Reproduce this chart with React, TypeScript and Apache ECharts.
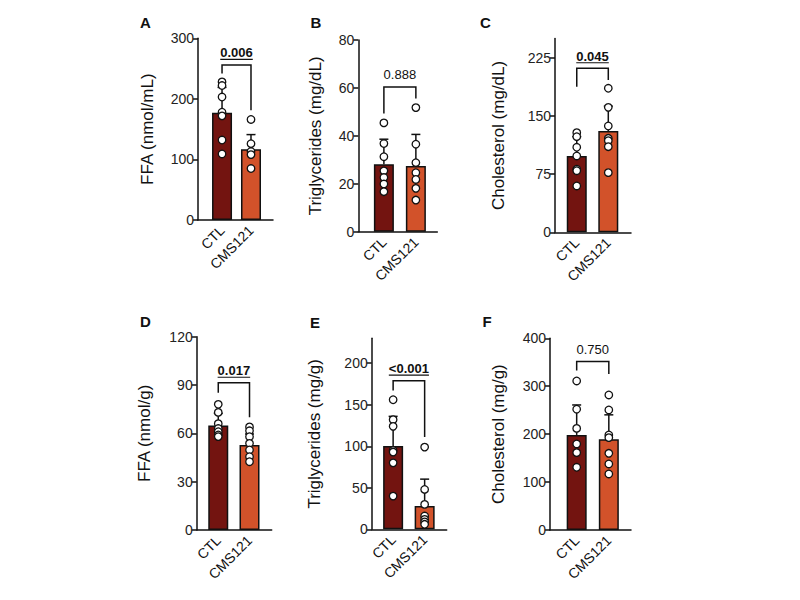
import React, { useEffect, useRef } from "react";
import * as echarts from "echarts";

// Groups and panel texts
const categories = ["CTL", "CMS121"];
const panelLetters = ["A", "B", "C", "D", "E", "F"];
const yTitles = [
  "FFA (nmol/mL)",
  "Triglycerides (mg/dL)",
  "Cholesterol (mg/dL)",
  "FFA (nmol/g)",
  "Triglycerides (mg/g)",
  "Cholesterol (mg/g)",
];
const yTicks = [
  [0, 100, 200, 300],
  [0, 20, 40, 60, 80],
  [0, 75, 150, 225],
  [0, 30, 60, 90, 120],
  [0, 50, 100, 150, 200],
  [0, 100, 200, 300, 400],
];
const yMax = [300, 80, 250, 120, 230, 400];

// Group means and SD (upper error bar), [CTL, CMS121]
const barMeans = [
  [177, 117],
  [28.1, 27.4],
  [98.5, 130.8],
  [64.8, 52.8],
  [100.4, 28],
  [198.3, 189.3],
];
const barSD = [
  [42, 24],
  [10.5, 13.2],
  [25, 32],
  [7.6, 6.8],
  [35.6, 32.4],
  [62.6, 51],
];

// Individual animals
const ctlPoints = [
  [228, 222, 203, 178, 172, 132, 109],
  [45.4, 36.8, 31.3, 25.4, 22.6, 19.9, 16.7],
  [128.6, 123.4, 109.7, 98.5, 81.3, 79.5, 59.8],
  [78, 73, 66, 63, 61, 59, 58],
  [156, 132, 124, 95, 93, 80, 40],
  [311, 252, 212, 179.5, 161.4, 130.9],
];
const cmsPoints = [
  [166, 126, 113, 108, 85],
  [51.8, 36.5, 28.8, 24.6, 21.8, 18.1, 13.2],
  [185.9, 161.3, 137.2, 121.3, 118.3, 110.5, 77],
  [64, 61.6, 57.9, 53.8, 49.7, 45.5, 42.4],
  [99, 48, 30, 16, 12, 9, 6],
  [281.8, 250.5, 198.3, 192.7, 160, 137.8, 116.9],
];

// Comparison results
const pValues = ["0.006", "0.888", "0.045", "0.017", "<0.001", "0.750"];
const significant = [true, false, true, true, true, false];

// Panel geometry (pixels) and bracket heights (axis units)
const layout = [
  { left: 198, top: 38.3, width: 75, height: 181.7, xMin: -0.83, xMax: 1.76, nameGap: 42, letter: [145.5, 22], bracket: [242, 256, 181] },
  { left: 358.3, top: 40, width: 79, height: 191.7, xMin: -0.8, xMax: 1.67, nameGap: 34, letter: [316, 22], bracket: [49.3, 60.4, 55.6] },
  { left: 555, top: 38.6, width: 76, height: 193.7, xMin: -0.69, xMax: 1.72, nameGap: 48, letter: [485.5, 22], bracket: [188, 211.7, 196.6] },
  { left: 196.7, top: 336.7, width: 75, height: 193.3, xMin: -0.69, xMax: 1.71, nameGap: 44, letter: [145.5, 321], bracket: [85.2, 91.4, 70] },
  { left: 371.7, top: 338.3, width: 75, height: 191, xMin: -0.68, xMax: 1.7, nameGap: 49, letter: [315, 322], bracket: [167, 179, 111] },
  { left: 550, top: 338.3, width: 81, height: 191.7, xMin: -0.83, xMax: 1.69, nameGap: 43, letter: [487, 321], bracket: [332.6, 351.4, 325.7] },
];

const FONT = "'Liberation Sans', Arial, Helvetica, sans-serif";
const BAR_COLORS = ["#731410", "#d2522a"];
const INK = "#111111";

function textWidth(text: string, font: string): number {
  const ctx = document.createElement("canvas").getContext("2d");
  if (!ctx) return text.length * 7;
  ctx.font = font;
  return ctx.measureText(text).width;
}

export default function App() {
  const ref = useRef<HTMLDivElement>(null);

  useEffect(() => {
    if (!ref.current) return;
    const chart = echarts.init(ref.current, null, { renderer: "svg" });

    const grids: any[] = [];
    const xAxes: any[] = [];
    const yAxes: any[] = [];
    const series: any[] = [];
    const graphics: any[] = [];

    layout.forEach((L, i) => {
      grids.push({ left: L.left, top: L.top, width: L.width, height: L.height, containLabel: false });
      xAxes.push({
        type: "value",
        gridIndex: i,
        min: L.xMin,
        max: L.xMax,
        splitLine: { show: false },
        axisTick: { show: false },
        axisLine: { show: true, lineStyle: { color: INK, width: 1.5 } },
        axisLabel: {
          customValues: [0, 1],
          formatter: (v: number) => categories[Math.round(v)] ?? "",
          rotate: 45,
          fontSize: 14,
          fontFamily: FONT,
          color: INK,
          margin: 8,
        },
      });
      yAxes.push({
        type: "value",
        gridIndex: i,
        min: 0,
        max: yMax[i],
        name: yTitles[i],
        nameLocation: "middle",
        nameRotate: 90,
        nameGap: L.nameGap,
        nameTextStyle: { fontSize: 17, fontFamily: FONT, color: INK },
        splitLine: { show: false },
        axisLine: { show: true, onZero: false, lineStyle: { color: INK, width: 1.5 } },
        axisTick: { show: true, customValues: yTicks[i], length: 5, lineStyle: { color: INK, width: 1.5 } },
        axisLabel: {
          customValues: yTicks[i],
          fontSize: 14,
          fontFamily: FONT,
          color: "#222",
          margin: 4,
        },
      });

      // Bars
      series.push({
        type: "bar",
        xAxisIndex: i,
        yAxisIndex: i,
        barWidth: 20,
        data: barMeans[i].map((m, g) => ({
          value: [g, m],
          itemStyle: { color: BAR_COLORS[g], borderColor: INK, borderWidth: 1.5 },
        })),
        silent: true,
      });

      // Upper SD error bars
      series.push({
        type: "custom",
        xAxisIndex: i,
        yAxisIndex: i,
        encode: { x: 0, y: 1 },
        data: barMeans[i].map((m, g) => [g, m, barSD[i][g]]),
        renderItem: (_p: any, api: any) => {
          const x = api.value(0);
          const m = api.value(1);
          const sd = api.value(2);
          const a = api.coord([x, m]);
          const b = api.coord([x, m + sd]);
          const style = { stroke: INK, lineWidth: 1.5 };
          return {
            type: "group",
            children: [
              { type: "line", shape: { x1: a[0], y1: a[1], x2: b[0], y2: b[1] }, style },
              { type: "line", shape: { x1: b[0] - 4.5, y1: b[1], x2: b[0] + 4.5, y2: b[1] }, style },
            ],
          };
        },
        silent: true,
        z: 3,
      });

      // Individual points
      series.push({
        type: "scatter",
        xAxisIndex: i,
        yAxisIndex: i,
        symbol: "circle",
        symbolSize: 7.5,
        itemStyle: { color: "#ffffff", borderColor: INK, borderWidth: 1.3, opacity: 1 },
        data: [
          ...ctlPoints[i].map((v) => [0, v]),
          ...cmsPoints[i].map((v) => [1, v]),
        ],
        silent: true,
        z: 4,
      });

      // Comparison bracket with p-value
      const [bl, bt, br] = L.bracket;
      const sig = significant[i];
      const pFont = `${sig ? "bold " : ""}13px ${FONT}`;
      const pw = textWidth(pValues[i], pFont);
      series.push({
        type: "custom",
        xAxisIndex: i,
        yAxisIndex: i,
        encode: { x: 0, y: 1 },
        data: [[0.5, bt]],
        renderItem: (_p: any, api: any) => {
          const pL = api.coord([0, bl]);
          const pT0 = api.coord([0, bt]);
          const pT1 = api.coord([1, bt]);
          const pR = api.coord([1, br]);
          const cx = (pT0[0] + pT1[0]) / 2;
          const ly = pT0[1] - 12;
          const children: any[] = [
            {
              type: "polyline",
              shape: { points: [pL, pT0, pT1, pR] },
              style: { stroke: INK, lineWidth: 1.5, fill: null },
            },
            {
              type: "text",
              x: cx,
              y: ly,
              style: {
                text: pValues[i],
                font: pFont,
                fill: INK,
                textAlign: "center",
                textVerticalAlign: "middle",
              },
            },
          ];
          if (sig) {
            children.push({
              type: "line",
              shape: { x1: cx - pw / 2, y1: ly + 6.5, x2: cx + pw / 2, y2: ly + 6.5 },
              style: { stroke: INK, lineWidth: 1.2 },
            });
          }
          return { type: "group", children };
        },
        silent: true,
        z: 5,
      });

      graphics.push({
        type: "text",
        x: L.letter[0],
        y: L.letter[1],
        style: {
          text: panelLetters[i],
          font: `bold 15px ${FONT}`,
          fill: INK,
          textAlign: "center",
          textVerticalAlign: "middle",
        },
      });
    });

    chart.setOption({
      animation: false,
      backgroundColor: "#ffffff",
      grid: grids,
      xAxis: xAxes,
      yAxis: yAxes,
      series,
      graphic: graphics,
    });

    return () => chart.dispose();
  }, []);

  return (
    <div
      ref={ref}
      style={{ position: "fixed", left: 0, top: 0, width: 800, height: 600, background: "#fff" }}
    />
  );
}
